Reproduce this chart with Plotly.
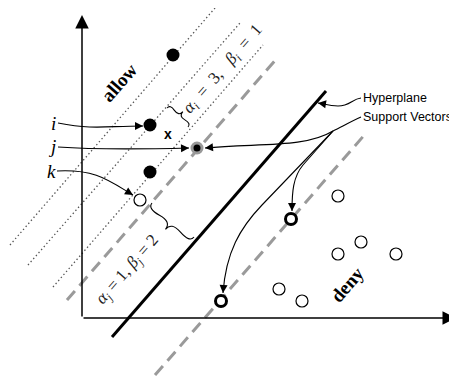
import math
import plotly.graph_objects as go

# ---------------- data (axis units, origin at the axes corner) ----------------
allow_x = [91, 68, 68]
allow_y = [263, 193, 146]
query_x = [115]            # point j (support vector on the allow side)
query_y = [170]
k_x = [58]
k_y = [118]
sv_x = [209, 139]          # deny-side support vectors
sv_y = [99, 17]
deny_x = [256, 279, 256, 314, 197, 220]
deny_y = [122, 76, 64, 64, 29, 17]
new_x = [86]
new_y = [183]

hyper_x = [30, 244]
hyper_y = [-19, 227]
margin_up_x = [-15, 196]
margin_up_y = [18, 261]
margin_dn_x = [73, 285]
margin_dn_y = [-57, 186]
dot1_x = [-72, 133]
dot1_y = [73, 310]
dot2_x = [-54, 158]
dot2_y = [53, 295]
dot3_x = [-29, 181]
dot3_y = [31, 273]

# ---------------- layout geometry ----------------
W, H = 457, 377      # window size
OFF = 8              # default body margin of the page
X0, Y0 = 82, 318     # screen pixel position of axes corner


def P(px, py):
    return (px - X0, Y0 - py)


def path_str(cmds):
    out = []
    for c, pts in cmds:
        s = c
        s += " ".join("%.2f,%.2f" % P(*p) for p in pts)
        out.append(s)
    return " ".join(out)


def brace(p1, p2, w, q=0.6):
    x1, y1 = p1
    x2, y2 = p2
    L = math.hypot(x2 - x1, y2 - y1)
    ux, uy = (x2 - x1) / L, (y2 - y1) / L
    nx, ny = -uy, ux

    def pt(a, b):
        return (x1 + a * ux + b * nx, y1 + a * uy + b * ny)

    c1 = pt(0, q * w)
    m1 = pt(0.25 * L, (1 - q) * w)
    r1 = pt(0.5 * L, (2 - 3 * q) * w)
    tip = pt(0.5 * L, w)
    c2 = pt(L, q * w)
    m2 = pt(0.75 * L, (1 - q) * w)
    r2 = pt(0.5 * L, (2 - 3 * q) * w)
    return path_str([("M", [p1]), ("Q", [c1, m1]), ("Q", [r1, tip]),
                     ("M", [p2]), ("Q", [c2, m2]), ("Q", [r2, tip])])


fig = go.Figure()

dotted = dict(color="#555555", width=1.3, dash="1.4px,2.6px")
for xs, ys in [(dot1_x, dot1_y), (dot2_x, dot2_y), (dot3_x, dot3_y)]:
    fig.add_trace(go.Scatter(x=xs, y=ys, mode="lines", line=dotted, hoverinfo="skip"))

dashed = dict(color="#9a9a9a", width=3, dash="12px,7px")
for xs, ys in [(margin_up_x, margin_up_y), (margin_dn_x, margin_dn_y)]:
    fig.add_trace(go.Scatter(x=xs, y=ys, mode="lines", line=dashed, hoverinfo="skip"))

fig.add_trace(go.Scatter(x=hyper_x, y=hyper_y, mode="lines",
                         line=dict(color="black", width=3), hoverinfo="skip"))

fig.add_trace(go.Scatter(x=allow_x, y=allow_y, mode="markers",
                         marker=dict(size=13, color="black", line=dict(width=0))))
fig.add_trace(go.Scatter(x=query_x, y=query_y, mode="markers",
                         marker=dict(size=10, color="black", line=dict(width=3, color="#999999"))))
fig.add_trace(go.Scatter(x=k_x, y=k_y, mode="markers",
                         marker=dict(size=12, color="white", line=dict(width=1.2, color="black"))))
fig.add_trace(go.Scatter(x=deny_x, y=deny_y, mode="markers",
                         marker=dict(size=12, color="white", line=dict(width=1.2, color="black"))))
fig.add_trace(go.Scatter(x=sv_x, y=sv_y, mode="markers",
                         marker=dict(size=11, color="white", line=dict(width=3, color="black"))))
fig.add_trace(go.Scatter(x=new_x, y=new_y, mode="text", text=["<b>x</b>"],
                         textfont=dict(family="Liberation Sans", size=14, color="black")))

shapes = []
curve = dict(type="path", xref="x", yref="y", line=dict(color="black", width=1.1), layer="above")

curves = [
    [("M", [(58, 123)]), ("C", [(95, 130), (105, 126), (143, 126)])],
    [("M", [(58, 147)]), ("C", [(100, 150), (150, 149), (189, 148)])],
    [("M", [(57, 171)]), ("C", [(95, 169), (108, 180), (133, 195)])],
    [("M", [(361, 98)]), ("C", [(352, 99), (350, 106), (338, 106)]),
     ("C", [(330, 106), (324, 104), (318, 103)])],
    [("M", [(361, 117)]), ("C", [(352, 121), (343, 126), (333, 131)])],
    [("M", [(333, 131)]), ("C", [(305, 148), (260, 143), (205, 148)])],
    [("M", [(333, 131)]), ("L", [(303, 165)]), ("C", [(293, 177), (292, 192), (292, 211)])],
    [("M", [(333, 131)]), ("L", [(262, 205)]), ("C", [(240, 228), (226, 252), (223, 293)])],
]
heads = []
for cv in curves:
    shapes.append(dict(curve, path=path_str(cv)))
for cv in [curves[i] for i in (0, 1, 2, 3, 5, 6, 7)]:
    last = cv[-1][1]
    tip, ctl = last[-1], last[-2]
    dx, dy = tip[0] - ctl[0], tip[1] - ctl[1]
    d = math.hypot(dx, dy)
    tail = (tip[0] - 7 * dx / d, tip[1] - 7 * dy / d)
    heads.append((tip, tail))

brace_line = dict(type="path", xref="x", yref="y", line=dict(color="black", width=1.1), layer="above")
shapes.append(dict(brace_line, path=brace((167, 108), (188, 127), -8)))
shapes.append(dict(brace_line, path=brace((152, 203), (194, 237), 12)))

ann = []
# axes
ann.append(dict(x=374, y=0, ax=0, ay=0, xref="x", yref="y", axref="x", ayref="y",
                showarrow=True, arrowhead=2, arrowsize=1.8, arrowwidth=1.5, text="",
                standoff=0, startstandoff=0, arrowcolor="black"))
ann.append(dict(x=0, y=303, ax=0, ay=0, xref="x", yref="y", axref="x", ayref="y",
                showarrow=True, arrowhead=2, arrowsize=1.8, arrowwidth=1.5, text="",
                standoff=0, startstandoff=0, arrowcolor="black"))
for tip, tail in heads:
    tx, ty = P(*tip)
    sx, sy = P(*tail)
    ann.append(dict(x=tx, y=ty, ax=sx, ay=sy, xref="x", yref="y", axref="x", ayref="y",
                    showarrow=True, arrowhead=2, arrowsize=1.6, arrowwidth=1, text="",
                    standoff=0, arrowcolor="black"))

serif = "Liberation Serif"
NB = "\u00a0"


def label(px, py, text, size, angle=0, family=serif, color="black", xanchor="center"):
    x, y = P(px, py)
    ann.append(dict(x=x, y=y, xref="x", yref="y", text=text, showarrow=False,
                    textangle=angle, xanchor=xanchor, yanchor="middle",
                    font=dict(family=family, size=size, color=color)))


alpha_i = ("<i>α<sub>i</sub></i>" + NB * 2 + "=" + NB * 2 + "3," + NB * 3 +
           "<i>β<sub>i</sub></i>" + NB * 2 + "=" + NB * 2 + "1")
alpha_j = ("<i>α<sub>j</sub></i>" + NB + "=" + NB + "1," + NB +
           "<i>β<sub>j</sub></i>" + NB + "=" + NB + "2")

label(119, 82, "<b>allow</b>", 19, -49)
label(347, 284, "<b>deny</b>", 19, -49)
label(223, 70, alpha_i, 17, -49, color="#222222")
label(128, 270, alpha_j, 17, -49, color="#222222")
label(58, 123, "<i>i</i>", 19, xanchor="right")
label(58, 146, "<i>j</i>", 19, xanchor="right")
label(58, 171, "<i>k</i>", 19, xanchor="right")
label(361, 98, "Hyperplane", 12.5, family="Liberation Sans", xanchor="left")
label(361, 117, "Support Vectors", 12.5, family="Liberation Sans", xanchor="left")

fig.update_layout(
    width=W - OFF, height=H - OFF, margin=dict(l=0, r=0, t=0, b=0),
    paper_bgcolor="white", plot_bgcolor="white", showlegend=False,
    xaxis=dict(range=[OFF - X0, W - X0], visible=False, fixedrange=True),
    yaxis=dict(range=[-(H - Y0), Y0 - OFF], visible=False, fixedrange=True),
    shapes=shapes, annotations=ann,
)

fig.write_html("out.html")
